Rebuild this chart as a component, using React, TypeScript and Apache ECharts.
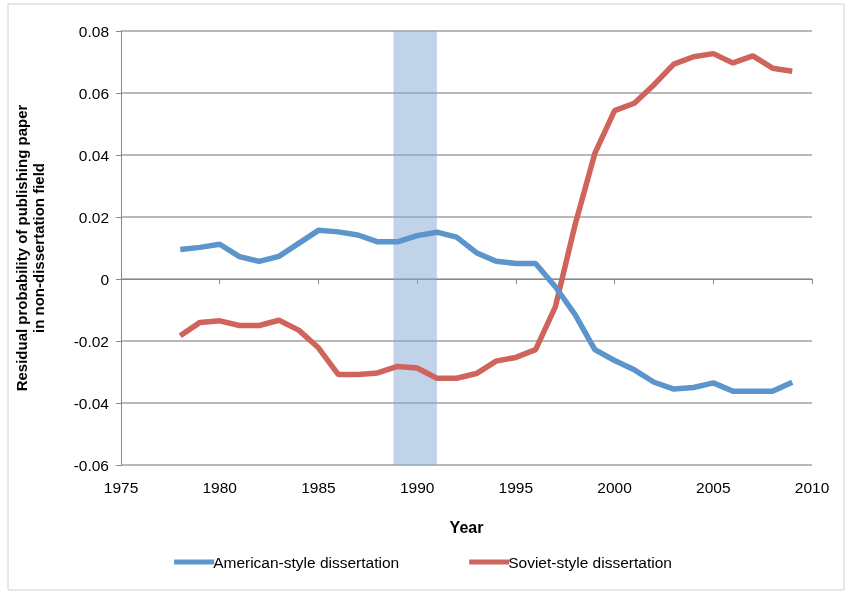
import { useEffect, useRef } from "react";
import * as echarts from "echarts";

const years = [1978, 1979, 1980, 1981, 1982, 1983, 1984, 1985, 1986, 1987, 1988, 1989, 1990, 1991, 1992, 1993, 1994, 1995, 1996, 1997, 1998, 1999, 2000, 2001, 2002, 2003, 2004, 2005, 2006, 2007, 2008, 2009];
const american = [0.0095, 0.0102, 0.0112, 0.0072, 0.0057, 0.0073, 0.0115, 0.0157, 0.0152, 0.0142, 0.012, 0.012, 0.014, 0.0151, 0.0135, 0.0085, 0.0057, 0.005, 0.005, -0.0025, -0.0115, -0.0228, -0.0263, -0.0293, -0.0333, -0.0355, -0.035, -0.0335, -0.0362, -0.0362, -0.0362, -0.0333];
const soviet = [-0.0183, -0.014, -0.0135, -0.015, -0.015, -0.0133, -0.0165, -0.0222, -0.0308, -0.0308, -0.0303, -0.0282, -0.0287, -0.032, -0.032, -0.0305, -0.0265, -0.0253, -0.0228, -0.009, 0.0175, 0.0405, 0.0543, 0.0567, 0.0627, 0.0693, 0.0717, 0.0727, 0.0697, 0.072, 0.068, 0.067];
const shadeRange = [1988.8, 1991];

export default function App() {
  const ref = useRef<HTMLDivElement | null>(null);

  useEffect(() => {
    if (!ref.current) return;
    const chart = echarts.init(ref.current, undefined, { renderer: "svg" });
    const font = "Liberation Sans";
    chart.setOption({
      animation: false,
      textStyle: { fontFamily: font },
      graphic: [
        { type: "rect", shape: { x: 8, y: 4, width: 836, height: 586 }, style: { fill: "none", stroke: "#d0d0d0", lineWidth: 1 } },
      ],
      grid: { left: 121, right: 34, top: 31, bottom: 128, outerBoundsMode: "none", containLabel: false },
      legend: {
        bottom: 18,
        left: "center",
        itemGap: 70,
        itemWidth: 40,
        itemHeight: 5,
        icon: "rect",
        textStyle: { fontSize: 15.5, color: "#000", fontFamily: font, padding: [0, 0, 0, -6] },
        data: ["American-style dissertation", "Soviet-style dissertation"],
      },
      xAxis: {
        type: "value",
        min: 1975,
        max: 2010,
        interval: 5,
        name: "Year",
        nameLocation: "middle",
        nameGap: 54,
        nameTextStyle: { fontWeight: "bold", fontSize: 16, color: "#000" },
        axisLine: { lineStyle: { color: "#888" } },
        axisTick: { show: true, lineStyle: { color: "#888" } },
        axisLabel: { fontSize: 15.5, color: "#000", margin: 14, formatter: (v: number) => String(v) },
        splitLine: { show: false },
      },
      yAxis: {
        type: "value",
        min: -0.06,
        max: 0.08,
        interval: 0.02,
        name: "Residual probability of publishing paper\nin non-dissertation field",
        nameLocation: "middle",
        nameGap: 74,
        nameTextStyle: { fontWeight: "bold", fontSize: 15, color: "#000", lineHeight: 17 },
        axisLine: { show: true, lineStyle: { color: "#888" } },
        axisTick: { show: true, lineStyle: { color: "#888" } },
        axisLabel: { fontSize: 15.5, color: "#000", margin: 12, formatter: (v: number) => (v === 0 ? "0" : v.toFixed(2)) },
        splitLine: { lineStyle: { color: "#a0a0a0", width: 1.5 } },
      },
      series: [
        {
          name: "American-style dissertation",
          type: "line",
          data: years.map((y, i) => [y, american[i]]),
          showSymbol: false,
          color: "#5b95cb",
          lineStyle: { width: 5.5 },
          z: 3,
          markArea: {
            silent: true,
            itemStyle: { color: "rgba(130,167,212,0.5)" },
            data: [[{ xAxis: shadeRange[0] }, { xAxis: shadeRange[1] }]],
          },
        },
        {
          name: "Soviet-style dissertation",
          type: "line",
          data: years.map((y, i) => [y, soviet[i]]),
          showSymbol: false,
          color: "#cf645c",
          lineStyle: { width: 5.5 },
          z: 2,
        },
      ],
    });
    return () => chart.dispose();
  }, []);

  return <div ref={ref} style={{ position: "fixed", left: 0, top: 0, width: 846, height: 593 }} />;
}
